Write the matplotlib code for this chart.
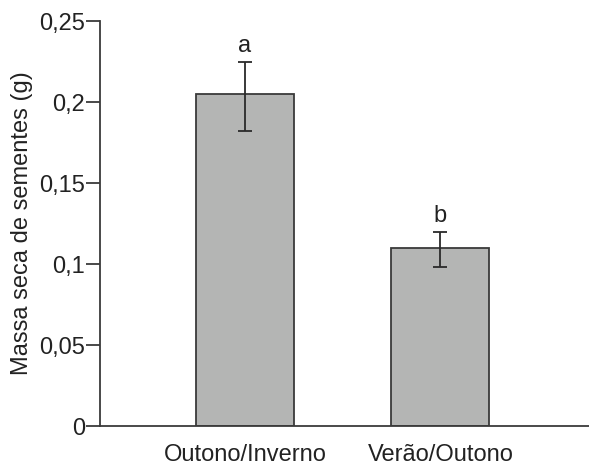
import matplotlib
matplotlib.use("Agg")
import matplotlib.pyplot as plt
from matplotlib.ticker import FixedLocator

categories = ["Outono/Inverno", "Verão/Outono"]
means = [0.205, 0.110]
err_upper = [0.225, 0.120]
err_lower = [0.182, 0.098]
letters = ["a", "b"]
yticks = [0, 0.05, 0.1, 0.15, 0.2, 0.25]
ytick_labels = ["0", "0,05", "0,1", "0,15", "0,2", "0,25"]

plt.rcParams['font.family'] = ['Liberation Sans', 'DejaVu Sans']

fig = plt.figure(figsize=(5.89, 4.70), dpi=100)
ax = fig.add_axes([0.170, 0.0936, 0.83, 0.8617])

x = list(range(len(categories)))
yerr = [[m - lo for m, lo in zip(means, err_lower)], [hi - m for m, hi in zip(means, err_upper)]]
ax.bar(x, means, width=0.5, color="#b4b5b4", edgecolor="#3a3a3a", linewidth=1.3, zorder=2)
ax.errorbar(x, means, yerr=yerr, fmt="none", ecolor="#2a2a2a", elinewidth=1.3, capsize=5, capthick=1.3, zorder=3)
for xi, hi, lt in zip(x, err_upper, letters):
    ax.text(xi, hi + 0.003, lt, ha="center", va="bottom", fontsize=17, color="#222222")

ax.set_xlim(-0.74, 1.76)
ax.set_ylim(0, 0.25)
ax.yaxis.set_major_locator(FixedLocator(yticks))
ax.set_yticklabels(ytick_labels)
ax.set_xticks(x)
ax.set_xticklabels(categories)
ax.tick_params(axis='y', direction='out', length=10, width=1.3, color="#3a3a3a", labelsize=17, labelcolor="#222222", pad=1)
ax.tick_params(axis='x', length=0, labelsize=17, labelcolor="#222222", pad=13)
for s in ["top", "right"]:
    ax.spines[s].set_visible(False)
for s in ["left", "bottom"]:
    ax.spines[s].set_color("#3a3a3a")
    ax.spines[s].set_linewidth(1.3)
ax.set_ylabel("Massa seca de sementes (g)", fontsize=17, color="#222222", labelpad=4)

fig.savefig("out.png", dpi=100)
